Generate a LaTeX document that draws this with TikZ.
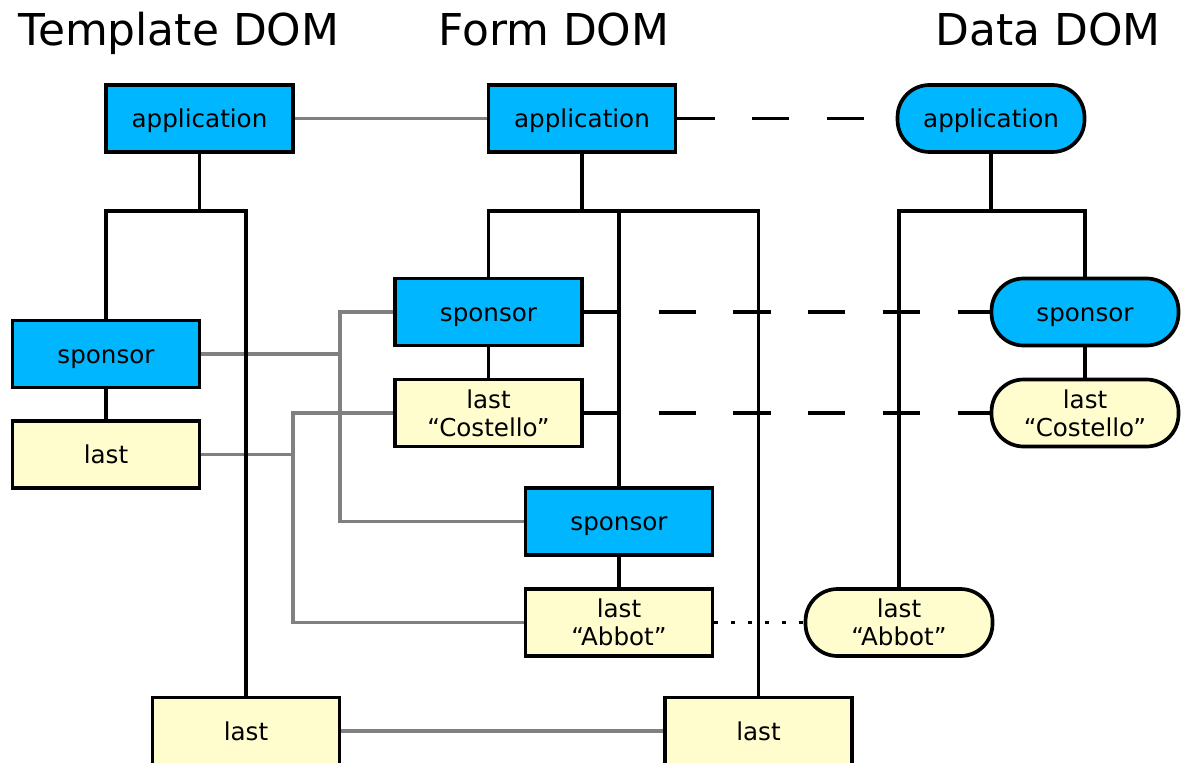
\documentclass[tikz,border=0pt]{standalone}
\usepackage{fontspec}
\setmainfont{DejaVu Sans}
\usepackage{tikz}
\usetikzlibrary{positioning,calc}
\definecolor{domblue}{RGB}{0,183,255}
\definecolor{domyellow}{RGB}{255,253,206}
\definecolor{linkgray}{RGB}{128,128,128}

\tikzset{
  dombox/.style={draw,line width=2.1pt,minimum width=3.74cm,minimum height=1.34cm,inner sep=0pt,align=center,font=\fontsize{14}{16}\selectfont},
  oneline/.style={text height=12.4pt,text depth=1.6pt},
  databox/.style={dombox,rounded corners=0.64cm},
  elem/.style={fill=domblue},
  leaf/.style={fill=domyellow},
  tree/.style={line width=2.1pt},
  link/.style={line width=2.1pt,linkgray},
  bind/.style={line width=2.1pt,dash pattern=on 0.745cm off 0.75cm},
  weakbind/.style={line width=2.1pt,dash pattern=on 0.07cm off 0.27cm},
  title/.style={anchor=base,font=\fontsize{25}{30}\selectfont}
}

\begin{document}
\begin{tikzpicture}[x=0.02cm,y=-0.02cm]
  \useasboundingbox (0,0) rectangle (1182,763);
  \clip (0,0) rectangle (1182,763);
  % Titles
  \node[title] (tTitle) at (179,46) {Template DOM};
  \node[title] (fTitle) at (554,46) {Form DOM};
  \node[title] (dTitle) at (1048,46) {Data DOM};
  % Template DOM
  \node[dombox,oneline,elem] (tApp) at (199.5,118.5) {application};
  \node[dombox,oneline,elem] (tSponsor) at (106,354) {sponsor};
  \node[dombox,oneline,leaf] (tLast) at (106,454.5) {last};
  \node[dombox,oneline,leaf] (tLastB) at (246,731) {last};
  % Form DOM
  \node[dombox,oneline,elem] (fApp) at (582,118.5) {application};
  \node[dombox,oneline,elem] (fSponsorA) at (488.5,312) {sponsor};
  \node[dombox,leaf] (fLastA) at (488.5,413) {last\\“Costello”};
  \node[dombox,oneline,elem] (fSponsorB) at (619,521.5) {sponsor};
  \node[dombox,leaf] (fLastB) at (619,622.5) {last\\“Abbot”};
  \node[dombox,oneline,leaf] (fLastC) at (758.5,731) {last};
  % Data DOM
  \node[databox,oneline,elem] (dApp) at (991,118.5) {application};
  \node[databox,oneline,elem] (dSponsor) at (1085,312) {sponsor};
  \node[databox,leaf] (dLastA) at (1085,413) {last\\“Costello”};
  \node[databox,leaf] (dLastB) at (899,622.5) {last\\“Abbot”};
  % Junctions
  \coordinate (tJ) at (199.5,211);
  \coordinate (fJ) at (582,211);
  \coordinate (dJ) at (991,211);
  \coordinate (sBus) at (340,0);
  \coordinate (lBus) at (293,0);
  % Template to form
  \draw[link] (tApp) -- (fApp);
  \draw[link] (tSponsor.east) -- (tSponsor.east -| sBus);
  \draw[link] (fSponsorA.west) -| (sBus |- fSponsorB) -- (fSponsorB.west);
  \draw[link] (tLast.east) -- (tLast.east -| lBus);
  \draw[link] (fLastA.west) -| (lBus |- fLastB) -- (fLastB.west);
  \draw[link] (tLastB) -- (fLastC);
  % Trees
  \draw[tree] (tApp) -- (tJ);
  \draw[tree] (tSponsor.north) |- (tJ) -| (tLastB.north);
  \draw[tree] (tSponsor) -- (tLast);
  \draw[tree] (fApp) -- (fJ);
  \draw[tree] (fSponsorA.north) |- (fJ) -| (fLastC.north);
  \draw[tree] (fJ -| fSponsorB) -- (fSponsorB.north);
  \draw[tree] (fSponsorA) -- (fLastA);
  \draw[tree] (fSponsorB) -- (fLastB);
  \draw[tree] (dApp) -- (dJ);
  \draw[tree] (dLastB.north) |- (dJ) -| (dSponsor.north);
  \draw[tree] (dSponsor) -- (dLastA);
  % Form to data
  \draw[bind] (fApp) -- (dApp);
  \draw[bind] (fSponsorA) -- (dSponsor);
  \draw[bind] (fLastA) -- (dLastA);
  \draw[weakbind] (fLastB) -- (dLastB);
\end{tikzpicture}
\end{document}
